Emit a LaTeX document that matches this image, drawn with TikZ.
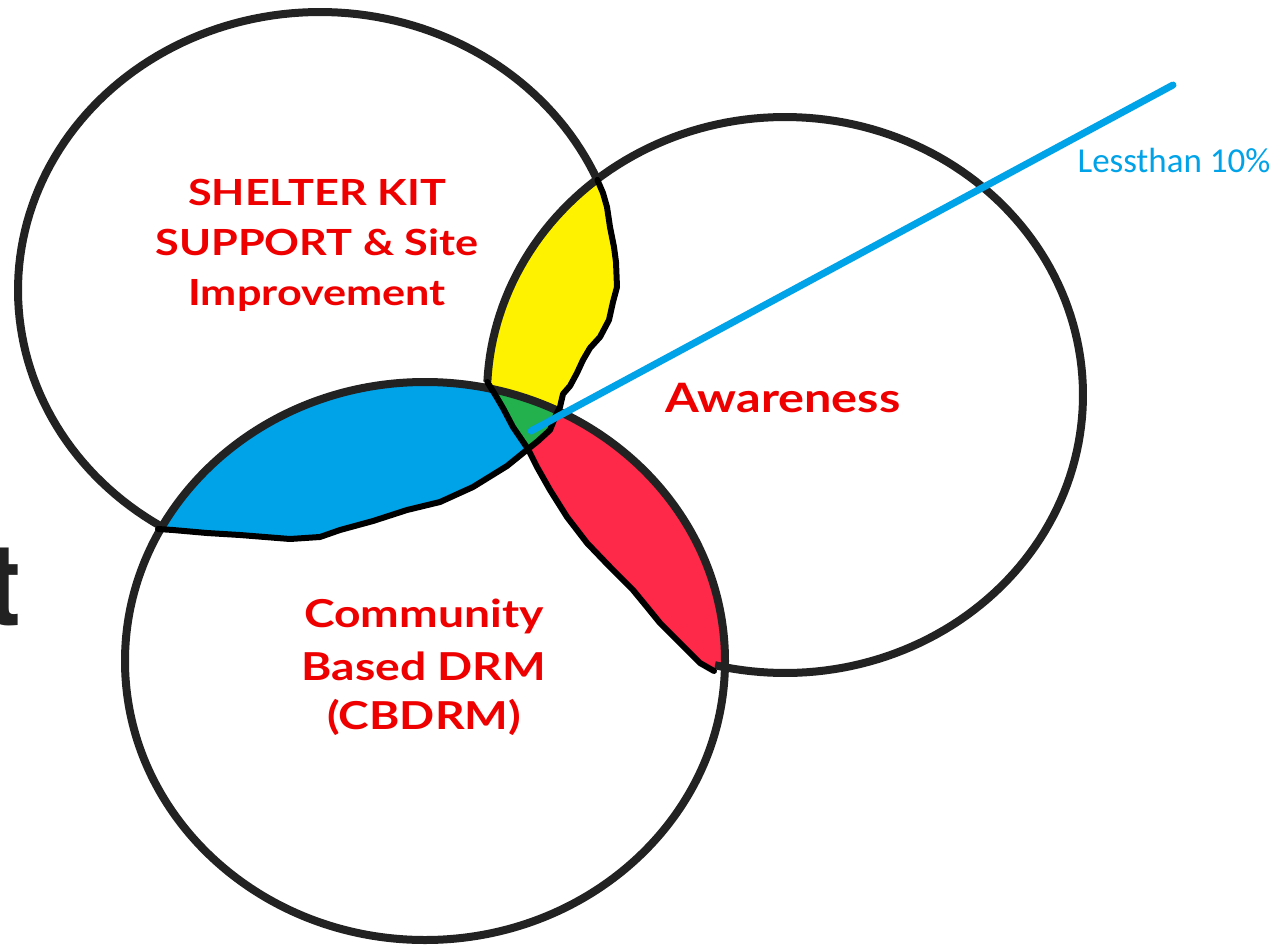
\documentclass[tikz,border=0pt]{standalone}
\usepackage{fontspec}
\newfontfamily\lblfont{Lato}[FakeStretch=1.2]
\newfontfamily\calfont{Carlito}
\newfontfamily\tfragfont{TeX Gyre Heros}
\definecolor{outl}{HTML}{222222}
\definecolor{redtxt}{HTML}{EE0000}
\definecolor{yelfill}{HTML}{FFF200}
\definecolor{bluefill}{HTML}{00A2E8}
\definecolor{redfill}{HTML}{FE2849}
\definecolor{greenfill}{HTML}{22B14C}
\definecolor{ptrblue}{HTML}{00A2E8}
\tikzset{
  grayline/.style={draw=outl, line width=8pt},
  handline/.style={draw=black, line width=6pt, line join=round, line cap=round},
  redlabel/.style={text=redtxt, font=\lblfont\bfseries\fontsize{36}{50}\selectfont, inner sep=0pt, anchor=base},
  pointer/.style={draw=ptrblue, line width=7pt, line cap=round},
}
\newcommand\ClipShapeA{\clip (597.4,180) -- (603,193) -- (607,207) -- (610,227) -- (614,247) -- (616,262) -- (617,287) -- (613,302) -- (609,320) -- (600,337) -- (590,348) -- (583,360) -- (577,373) -- (570,386) -- (563,394) -- (560,407) -- (556,415) -- (550,430) -- (538,441) -- (528,449) -- (507,466) -- (473,487) -- (440,502) -- (407,510) -- (373,521) -- (340,530) -- (320,537) -- (290,539) -- (240,535) -- (207,533) -- (173,530) -- (158,529) -- plot[domain=121.9:336.7, samples=120] ({320+302*cos(\x)},{290+278*sin(\x)}) -- cycle;}
\newcommand\ClipShapeB{\clip (425,661) ellipse [x radius=300pt, y radius=279pt];}
\newcommand\ClipShapeC{\clip (714,671) -- (700,663) -- (680,643) -- (660,623) -- (647,607) -- (633,590) -- (610,567) -- (587,543) -- (567,517) -- (550,490) -- (537,467) -- (528,449) -- (513,427) -- (503,408) -- (496,396) -- (487.3,382) -- plot[domain=-177.3:103.6, samples=160] ({785+298*cos(\x)},{395+278*sin(\x)}) -- cycle;}
\begin{document}
\begin{tikzpicture}[x=1pt,y=-1pt]
\useasboundingbox (0,0) rectangle (1286,945);
\fill[white] (0,0) rectangle (1286,945);
% overlap fills
\begin{scope}
  \ClipShapeA \ClipShapeC
  \fill[yelfill] (0,0) rectangle (1286,945);
\end{scope}
\begin{scope}
  \ClipShapeA \ClipShapeB
  \fill[bluefill] (0,0) rectangle (1286,945);
\end{scope}
\begin{scope}
  \ClipShapeB \ClipShapeC
  \fill[redfill] (0,0) rectangle (1286,945);
\end{scope}
\begin{scope}
  \ClipShapeA \ClipShapeB \ClipShapeC
  \fill[greenfill] (0,0) rectangle (1286,945);
\end{scope}
% circle outlines
\draw[grayline] plot[domain=121.9:336.7, samples=120] ({320+302*cos(\x)},{290+278*sin(\x)});
\draw[grayline] (425,661) ellipse [x radius=300pt, y radius=279pt];
\draw[grayline] plot[domain=-177.3:103.6, samples=160] ({785+298*cos(\x)},{395+278*sin(\x)});
% hand-drawn boundaries
\draw[handline] (597.4,180) -- (603,193) -- (607,207) -- (610,227) -- (614,247) -- (616,262) -- (617,287) -- (613,302) -- (609,320) -- (600,337) -- (590,348) -- (583,360) -- (577,373) -- (570,386) -- (563,394) -- (560,407) -- (556,415) -- (550,430) -- (538,441) -- (528,449) -- (507,466) -- (473,487) -- (440,502) -- (407,510) -- (373,521) -- (340,530) -- (320,537) -- (290,539) -- (240,535) -- (207,533) -- (173,530) -- (158,529);
\draw[handline] (487.3,382) -- (496,396) -- (503,408) -- (513,427) -- (528,449) -- (537,467) -- (550,490) -- (567,517) -- (587,543) -- (610,567) -- (633,590) -- (647,607) -- (660,623) -- (680,643) -- (700,663) -- (714,671);
% labels
\node[redlabel] (s1) at (317,205) {SHELTER KIT};
\node[redlabel] (s2) at (317,255) {SUPPORT \& Site};
\node[redlabel] (s3) at (317,305) {Improvement};
\node[redlabel, font=\lblfont\bfseries\fontsize{38.5}{50}\selectfont] (c1) at (424,627) {Community};
\node[redlabel, font=\lblfont\bfseries\fontsize{38.5}{50}\selectfont] (c2) at (424,680) {Based DRM};
\node[redlabel, font=\lblfont\bfseries\fontsize{38.5}{50}\selectfont] (c3) at (424,729) {(CBDRM)};
\node[redlabel, font=\lblfont\bfseries\fontsize{40.5}{50}\selectfont] (aw) at (783,412) {Awareness};
\node[text=ptrblue, font=\calfont\fontsize{35}{40}\selectfont, inner sep=0pt, anchor=base] (less) at (1174,172) {Lessthan 10\%};
\node[text=outl, font=\tfragfont\bfseries\fontsize{115}{120}\selectfont, inner sep=0pt, anchor=base east] (tfrag) at (22,625) {t};
% pointer
\coordinate (ptr) at (531,431);
\coordinate (ptrend) at (1173,85);
\draw[pointer] (ptr) -- (ptrend);
\end{tikzpicture}
\end{document}
